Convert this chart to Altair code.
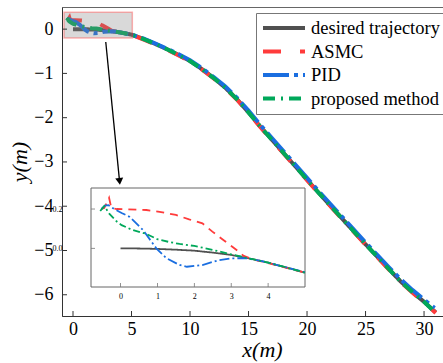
import altair as alt
import pandas as pd

SERIES = ["desired trajectory", "ASMC", "PID", "proposed method"]
COLORS = ["#505050", "#ff3b3b", "#1a6ee0", "#00a85a"]
DASH_MAIN = [[1, 0], [18, 19], [26, 5, 4, 5], [12, 6, 2, 6]]
DASH_INSET = [[1, 0], [8, 6], [10, 3, 2, 3], [7, 3, 2, 3]]

# ---- trajectories (x in m, y in m) ----
des_x = [0, 0.5, 1, 1.5, 2, 2.5, 3, 3.5, 4, 4.5, 5, 6, 7, 8, 9, 10, 11, 12, 13, 14, 15,
         16, 17, 18, 19, 20, 21, 22, 23, 24, 25, 26, 27, 28, 29, 30, 31]
des_y = [0, -0.001, -0.003, -0.007, -0.012, -0.022, -0.034, -0.052, -0.073, -0.098, -0.124,
         -0.22, -0.33, -0.45, -0.58, -0.72, -0.9, -1.1, -1.32, -1.58, -1.88, -2.2, -2.5,
         -2.8, -3.1, -3.4, -3.7, -3.99, -4.28, -4.57, -4.86, -5.14, -5.42, -5.7, -5.94,
         -6.16, -6.4]

asmc_x = [-0.52, -0.44, -0.31, -0.25, -0.1, 0.2, 0.7, 1.06, 1.5, 1.86, 2.22, 2.49, 2.76,
          3.03, 3.2, 3.34, 3.56, 4, 4.5, 5, 6, 7, 8, 9, 10, 11, 12, 13, 14, 15, 16, 17, 18,
          19, 20, 21, 22, 23, 24, 25, 26, 27, 28, 29, 30, 31]
asmc_y = [0.2, 0.205, 0.257, 0.205, 0.2, 0.198, 0.195, 0.186, 0.17, 0.147, 0.127, 0.085,
          0.046, 0.008, -0.017, -0.039, -0.055, -0.075, -0.1, -0.124, -0.23, -0.34, -0.46,
          -0.59, -0.73, -0.91, -1.11, -1.33, -1.59, -1.89, -2.21, -2.51, -2.81, -3.11,
          -3.41, -3.71, -4.0, -4.29, -4.58, -4.87, -5.15, -5.43, -5.71, -5.95, -6.17, -6.41]

pid_x = [-0.52, -0.42, -0.33, -0.17, 0.03, 0.25, 0.61, 0.97, 1.24, 1.6, 1.8, 2.22, 2.67,
         3.03, 3.39, 3.8, 4.3, 5, 6, 7, 8, 9, 10, 11, 12, 13, 14, 15, 16, 17, 18, 19, 20,
         21, 22, 23, 24, 25, 26, 27, 28, 29, 30, 30.9]
pid_y = [0.2, 0.217, 0.22, 0.2, 0.18, 0.16, 0.093, 0.0, -0.05, -0.085, -0.094, -0.085,
         -0.06, -0.051, -0.05, -0.064, -0.088, -0.122, -0.21, -0.32, -0.44, -0.56, -0.7,
         -0.88, -1.08, -1.29, -1.55, -1.84, -2.16, -2.46, -2.76, -3.06, -3.36, -3.66,
         -3.95, -4.24, -4.53, -4.82, -5.1, -5.38, -5.65, -5.89, -6.11, -6.3]

prop_x = [-0.55, -0.44, -0.3, -0.1, 0.03, 0.3, 0.7, 1.0, 1.3, 1.6, 2.0, 2.5, 3.0, 3.5, 4.0,
          4.5, 5, 6, 7, 8, 9, 10, 11, 12, 13, 14, 15, 16, 17, 18, 19, 20, 21, 22, 23, 24,
          25, 26, 27, 28, 29, 30, 31]
prop_y = [0.19, 0.215, 0.175, 0.136, 0.118, 0.095, 0.073, 0.046, 0.033, 0.022, 0.012,
          -0.008, -0.031, -0.052, -0.073, -0.098, -0.124, -0.22, -0.33, -0.45, -0.58,
          -0.72, -0.9, -1.1, -1.32, -1.58, -1.88, -2.2, -2.5, -2.8, -3.1, -3.4, -3.7,
          -3.99, -4.28, -4.57, -4.86, -5.14, -5.42, -5.7, -5.94, -6.16, -6.41]

# ---- axes / annotation values ----
main_x_ticks = [0, 5, 10, 15, 20, 25, 30]
main_y_ticks = [0, -1, -2, -3, -4, -5, -6]
main_x_dom = [-0.94, 31.62]
main_y_dom = [-6.48, 0.5]
inset_x_ticks = [0, 1, 2, 3, 4]
inset_y_ticks = [0.0, 0.2]
inset_x_dom = [-0.8, 5.0]
inset_y_dom = [-0.197, 0.307]
zoom_box_x = [-0.77, 5.07]
zoom_box_y = [-0.2, 0.38]
arrow_x = [2.8, 3.98]
arrow_y = [-0.29, -3.44]

XS = [des_x, asmc_x, pid_x, prop_x]
YS = [des_y, asmc_y, pid_y, prop_y]

W, H = 381, 309
SERIF = "Liberation Serif"


def mx():
    return alt.Scale(domain=main_x_dom, nice=False, zero=False)


def my():
    return alt.Scale(domain=main_y_dom, nice=False, zero=False)


def ix():
    return alt.Scale(domain=inset_x_dom, range=[29, 243], nice=False, zero=False)


def iy():
    return alt.Scale(domain=inset_y_dom, range=[280, 181], nice=False, zero=False)


color_scale = alt.Scale(domain=SERIES, range=COLORS)
dash_scale = alt.Scale(domain=SERIES, range=DASH_MAIN)

legend = alt.Legend(
    orient="none", legendX=194, legendY=6, title=None, symbolType="stroke",
    symbolSize=1764, symbolStrokeWidth=4, labelFont=SERIF, labelFontSize=18.5,
    labelColor="black", strokeColor="#777", fillColor="white", padding=5,
    labelOffset=4, rowPadding=3.5, clipHeight=20, labelLimit=300, cornerRadius=0,
)

layers = []
for i, name in enumerate(SERIES):
    df = pd.DataFrame({"x": XS[i], "y": YS[i], "series": name, "o": range(len(XS[i]))})
    if i == 0:
        xenc = alt.X("x:Q", scale=mx(), axis=alt.Axis(
            orient="bottom", values=main_x_ticks, ticks=False, grid=False, labelPadding=4,
            labelFont=SERIF, labelFontSize=18, labelColor="black", domainColor="#333",
            title="x(m)", titleFont=SERIF, titleFontStyle="italic", titleFontWeight="normal",
            titleFontSize=22, titleColor="black", titlePadding=1, titleX=200,
            labelFlush=False))
        yenc = alt.Y("y:Q", scale=my(), axis=alt.Axis(
            orient="left", values=main_y_ticks, ticks=False, grid=False, labelPadding=9,
            labelFont=SERIF, labelFontSize=18, labelColor="black", domainColor="#333",
            title="y(m)", titleFont=SERIF, titleFontStyle="italic", titleFontWeight="normal",
            titleFontSize=22, titleColor="black", titlePadding=2, labelFlush=False))
    else:
        xenc = alt.X("x:Q", scale=mx(), axis=None)
        yenc = alt.Y("y:Q", scale=my(), axis=None)
    layers.append(
        alt.Chart(df).mark_line(strokeWidth=4, clip=True).encode(
            x=xenc, y=yenc, order="o:Q",
            color=alt.Color("series:N", scale=color_scale, legend=legend),
            strokeDash=alt.StrokeDash("series:N", scale=dash_scale, legend=legend),
        )
    )

box_df = pd.DataFrame({"x0": [zoom_box_x[0]], "x1": [zoom_box_x[1]],
                       "y0": [zoom_box_y[0]], "y1": [zoom_box_y[1]]})
layers.append(alt.Chart(box_df).mark_rect(
    fill="#808080", fillOpacity=0.3, stroke="#ff4040", strokeOpacity=0.4, strokeWidth=1.5
).encode(x=alt.X("x0:Q", scale=mx(), axis=None), x2="x1:Q",
         y=alt.Y("y0:Q", scale=my(), axis=None), y2="y1:Q"))

arr_df = pd.DataFrame({"x0": [arrow_x[0]], "x1": [arrow_x[1]],
                       "y0": [arrow_y[0]], "y1": [arrow_y[1]]})
layers.append(alt.Chart(arr_df).mark_rule(color="black", strokeWidth=1.3).encode(
    x=alt.X("x0:Q", scale=mx(), axis=None), x2="x1:Q",
    y=alt.Y("y0:Q", scale=my(), axis=None), y2="y1:Q"))
layers.append(alt.Chart(arr_df).mark_point(
    shape="triangle-down", filled=True, color="black", size=64, opacity=1, angle=354
).encode(x=alt.X("x1:Q", scale=mx(), axis=None), y=alt.Y("y1:Q", scale=my(), axis=None)))

xt_df = pd.DataFrame({"v": main_x_ticks})
yt_df = pd.DataFrame({"v": main_y_ticks})
layers.append(alt.Chart(xt_df).mark_tick(
    orient="vertical", size=5, thickness=1, color="#333", yOffset=-2.5, opacity=1
).encode(x=alt.X("v:Q", scale=mx(), axis=None),
         y=alt.datum(main_y_dom[0], scale=my(), axis=None)))
layers.append(alt.Chart(yt_df).mark_tick(
    orient="horizontal", size=5, thickness=1, color="#333", xOffset=2.5, opacity=1
).encode(y=alt.Y("v:Q", scale=my(), axis=None),
         x=alt.datum(main_x_dom[0], scale=mx(), axis=None)))

# ---- inset ----
frame_df = pd.DataFrame({"x0": [inset_x_dom[0]], "x1": [inset_x_dom[1]],
                         "y0": [inset_y_dom[0]], "y1": [inset_y_dom[1]]})
layers.append(alt.Chart(frame_df).mark_rect(fill="white", stroke="#666", strokeWidth=1).encode(
    x=alt.X("x0:Q", scale=ix(), axis=alt.Axis(
        orient="bottom", offset=-29, values=inset_x_ticks, format="d", domain=False,
        ticks=False, grid=False, labelFont=SERIF, labelFontSize=8, labelColor="black",
        labelPadding=5, title=None, labelFlush=False)),
    x2="x1:Q",
    y=alt.Y("y0:Q", scale=iy(), axis=alt.Axis(
        orient="left", offset=-4, values=inset_y_ticks, format=".1f", domain=False,
        ticks=False, grid=False, labelFont=SERIF, labelFontSize=8, labelColor="black",
        labelPadding=4, title=None, labelFlush=False)),
    y2="y1:Q",
))

for i, name in enumerate(SERIES):
    df = pd.DataFrame({"x": XS[i], "y": YS[i], "o": range(len(XS[i]))})
    df = df[(df.x >= inset_x_dom[0]) & (df.x <= inset_x_dom[1])]
    layers.append(
        alt.Chart(df).mark_line(strokeWidth=1.8, color=COLORS[i], strokeDash=DASH_INSET[i]).encode(
            x=alt.X("x:Q", scale=ix(), axis=None), y=alt.Y("y:Q", scale=iy(), axis=None),
            order="o:Q")
    )

ixt_df = pd.DataFrame({"v": inset_x_ticks})
iyt_df = pd.DataFrame({"v": inset_y_ticks})
layers.append(alt.Chart(ixt_df).mark_tick(
    orient="vertical", size=4, thickness=0.8, color="#777", yOffset=-2, opacity=1
).encode(x=alt.X("v:Q", scale=ix(), axis=None),
         y=alt.datum(inset_y_dom[0], scale=iy(), axis=None)))
layers.append(alt.Chart(iyt_df).mark_tick(
    orient="horizontal", size=4, thickness=0.8, color="#777", xOffset=2, opacity=1
).encode(y=alt.Y("v:Q", scale=iy(), axis=None),
         x=alt.datum(inset_x_dom[0], scale=ix(), axis=None)))

chart = alt.layer(*layers).resolve_scale(x="independent", y="independent").properties(
    width=W, height=H, autosize="none",
    padding={"left": 62, "top": 7, "right": 0, "bottom": 47},
).configure(font=SERIF).configure_view(stroke="#666", strokeWidth=1)

chart.save("out.html", embed_options={"renderer": "svg", "actions": False})
